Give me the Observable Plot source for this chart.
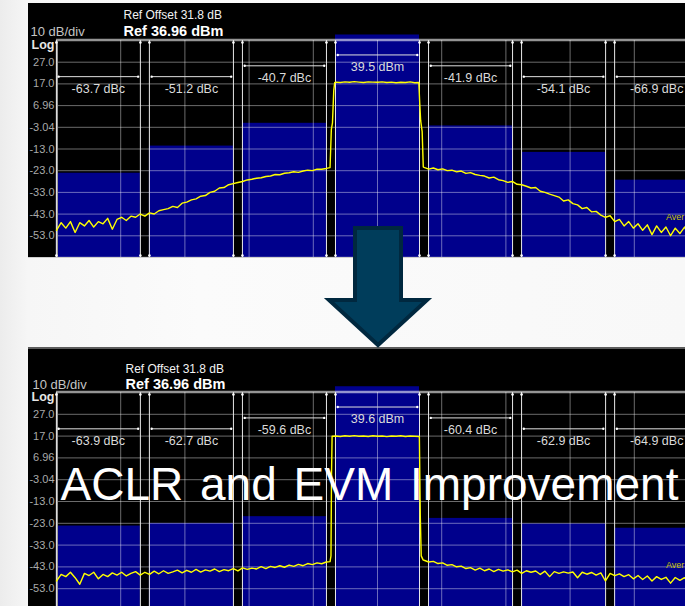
<!DOCTYPE html>
<html>
<head>
<meta charset="utf-8">
<script src="https://cdn.jsdelivr.net/npm/d3@7"></script>
<script src="https://cdn.jsdelivr.net/npm/@observablehq/plot@0.6"></script>
<style>
html,body{margin:0;padding:0;overflow:hidden;background:#f7f7f7;}
#page{position:relative;width:685px;height:606px;overflow:hidden;
  background:linear-gradient(90deg,#ececec 0px,#f6f6f6 28px,#fbfbfb 200px,#f8f8f8 100%);
  font-family:"Liberation Sans",Arial,sans-serif;}
.panel{position:absolute;left:28px;background:#000;}
#top{top:3px;width:670px;height:254px;}
#bottom{top:349px;width:670px;height:261px;}
#sep{position:absolute;left:28px;top:347px;width:657px;height:2px;background:#5c5c5c;}
#topedge{position:absolute;left:28px;top:257px;width:657px;height:1px;background:#cfcfcf;}
#arrow{position:absolute;left:0;top:0;pointer-events:none;}
</style>
</head>
<body>
<div id="page">
  <div id="top" class="panel"></div>
  <div id="topedge"></div>
  <div id="sep"></div>
  <div id="bottom" class="panel"></div>
  <svg id="arrow" width="685" height="606">
    <polygon points="355,228 401,228 401,300 427,300 378,345 329,300 355,300"
      fill="#003d5b" stroke="#00283f" stroke-width="4" stroke-linejoin="miter"/>
  </svg>
</div>
<script>
// ---------- data ----------
const channelOffsets = [-15, -10, -5, 0, 5, 10, 15];       // MHz
const channelBandwidth = 4.515;                             // MHz
const spanMHz = [-17.25, 17.25];
const refLevel = 36.96;
const bottomLevel = -63.04;
const xGridMHz = [-13.8, -10.35, -6.9, -3.45, 0, 3.45, 6.9, 10.35, 13.8];
const yTicks = [26.96, 16.96, 6.96, -3.04, -13.04, -23.04, -33.04, -43.04, -53.04];
const yTickLabels = ["27.0", "17.0", "6.96", "-3.04", "-13.0", "-23.0", "-33.0", "-43.0", "-53.0"];
const labelLevels = [20.3, 20.3, 25.3, 30.3, 25.3, 20.3, 20.3];

const topCarrier = 39.5;
const topRel = [-63.7, -51.2, -40.7, null, -41.9, -54.1, -66.9];
const topLabels = ["-63.7 dBc", "-51.2 dBc", "-40.7 dBc", "39.5 dBm", "-41.9 dBc", "-54.1 dBc", "-66.9 dBc"];

const bottomCarrier = 39.6;
const bottomRel = [-63.9, -62.7, -59.6, null, -60.4, -62.9, -64.9];
const bottomLabels = ["-63.9 dBc", "-62.7 dBc", "-59.6 dBc", "39.6 dBm", "-60.4 dBc", "-62.9 dBc", "-64.9 dBc"];

const headerOffset = "Ref Offset 31.8 dB";
const headerRef = "Ref 36.96 dBm";
const headerScale = "10 dB/div";
const headerLog = "Log";
const detectorText = "Aver";
const title = "ACLR and EVM Improvement";

// spectrum traces [MHz, dBm]
const traceTop = [
[-17.25,-50.5],[-17,-47],[-16.75,-49.5],[-16.5,-46.5],[-16.25,-51.5],[-16,-47],[-15.75,-48.5],[-15.5,-46],
[-15.25,-49],[-15,-46.5],[-14.75,-47.5],[-14.5,-45],[-14.25,-50],[-14,-45.5],[-13.75,-44.5],[-13.5,-46],
[-13.25,-44],[-13,-44.5],[-12.75,-43],[-12.5,-44],[-12.25,-42.5],[-12,-43],[-11.75,-41.5],[-11.5,-41],
[-11.25,-40.5],[-11,-39.5],[-10.75,-40],[-10.5,-38],[-10.25,-37.5],[-10,-36.5],[-9.75,-36],[-9.5,-34.8],
[-9.25,-34.5],[-9,-33],[-8.75,-32.5],[-8.5,-31],[-8.25,-30.8],[-8,-29.5],[-7.75,-29],[-7.5,-28.5],
[-7.25,-28],[-7,-27.3],[-6.75,-27],[-6.5,-26.5],[-6.25,-26.3],[-6,-25.7],[-5.75,-25.5],[-5.5,-24.8],
[-5.25,-24.9],[-5,-24.2],[-4.75,-24],[-4.5,-23.5],[-4.25,-23.8],[-4,-23.2],[-3.75,-22.8],[-3.5,-23],
[-3.25,-22.3],[-3,-22.4],[-2.75,-22],[-2.55,-21.6],[-2.48,-4],[-2.42,-1],[-2.35,14],[-2.3,17.6],
[-2.25,17.8],[-2,17.6],[-1.75,17.9],[-1.5,17.7],[-1.25,18],[-1,17.8],[-0.75,17.6],[-0.5,17.9],
[-0.25,17.8],[0,17.7],[0.25,17.9],[0.5,17.6],[0.75,17.8],[1,17.5],[1.25,17.7],[1.5,17.6],
[1.75,17.9],[2,17.5],[2.22,17.6],[2.27,8],[2.32,0],[2.4,-5],[2.46,-21.3],
[2.5,-21.5],[2.75,-22.3],[3,-21.8],[3.25,-22.6],[3.5,-22.2],[3.75,-23],[4,-22.8],[4.25,-23.6],
[4.5,-23.2],[4.75,-24.3],[5,-23.9],[5.25,-24.8],[5.5,-25.2],[5.75,-25.5],[6,-26.4],[6.25,-26],
[6.5,-27.2],[6.75,-27.6],[7,-28.4],[7.25,-28],[7.5,-29.3],[7.75,-29.5],[8,-30.2],[8.25,-31],
[8.5,-30.8],[8.75,-32.5],[9,-33],[9.25,-33.8],[9.5,-34.5],[9.75,-35.2],[10,-37],[10.25,-36.5],
[10.5,-38.2],[10.75,-38.8],[11,-40.5],[11.25,-40],[11.5,-42],[11.75,-41.8],[12,-43.5],[12.25,-44.5],
[12.5,-43.8],[12.75,-46.5],[13,-45.5],[13.25,-48.5],[13.5,-46.5],[13.75,-49.5],[14,-47.5],[14.25,-50.5],
[14.5,-48],[14.75,-52.5],[15,-48.5],[15.25,-51.5],[15.5,-49],[15.75,-53],[16,-49.5],[16.25,-52],
[16.5,-49],[16.75,-54],[17,-50],[17.25,-52.5]
];
const traceBottom = [
[-17.25,-49.5],[-17,-46.5],[-16.75,-47.5],[-16.5,-45.5],[-16.25,-48],[-16,-51],[-15.75,-46],[-15.5,-47],
[-15.25,-45.5],[-15,-48.5],[-14.75,-46.5],[-14.5,-47.5],[-14.25,-45.8],[-14,-46.8],[-13.75,-45.5],[-13.5,-47.2],
[-13.25,-46],[-13,-45.2],[-12.75,-46.8],[-12.5,-45.5],[-12.25,-46.5],[-12,-45],[-11.75,-46.2],[-11.5,-44.8],
[-11.25,-46],[-11,-45.3],[-10.75,-44.5],[-10.5,-45.8],[-10.25,-44.6],[-10,-45.5],[-9.75,-44.2],[-9.5,-45.4],
[-9.25,-44.4],[-9,-45],[-8.75,-44],[-8.5,-45.2],[-8.25,-44.3],[-8,-44.8],[-7.75,-43.8],[-7.5,-44.9],
[-7.25,-43.5],[-7,-44.2],[-6.75,-43.6],[-6.5,-44],[-6.25,-42.9],[-6,-43.8],[-5.75,-42.8],[-5.5,-43.3],
[-5.25,-42.5],[-5,-43.2],[-4.75,-42.2],[-4.5,-42.8],[-4.25,-41.9],[-4,-42.5],[-3.75,-41.5],[-3.5,-42],
[-3.25,-41.2],[-3,-41.6],[-2.75,-40.8],[-2.55,-40.6],[-2.5,-38],[-2.47,0],[-2.44,16.9],
[-2.25,17],[-2,16.8],[-1.75,17.1],[-1.5,16.9],[-1.25,17.2],[-1,16.9],[-0.75,17],[-0.5,16.8],
[-0.25,17.1],[0,16.9],[0.25,17],[0.5,16.7],[0.75,17],[1,16.9],[1.25,17.1],[1.5,16.8],
[1.75,17],[2,16.9],[2.25,16.8],[2.3,-20],[2.35,-38],[2.45,-39.8],
[2.5,-40],[2.75,-40.8],[3,-40.5],[3.25,-41.5],[3.5,-41.2],[3.75,-42.3],[4,-42],[4.25,-43],
[4.5,-42.7],[4.75,-43.8],[5,-43.4],[5.25,-44.5],[5.5,-43.6],[5.75,-44.8],[6,-44],[6.25,-45.2],
[6.5,-44.2],[6.75,-45],[7,-44.4],[7.25,-45.3],[7.5,-44.5],[7.75,-46],[8,-44.8],[8.25,-45.5],
[8.5,-44.9],[8.75,-46.5],[9,-45],[9.25,-47.5],[9.5,-45.2],[9.75,-46],[10,-45.3],[10.25,-45.9],
[10.5,-45.4],[10.75,-48],[11,-45.5],[11.25,-46.4],[11.5,-45.6],[11.75,-46.8],[12,-45.8],[12.25,-49.5],
[12.5,-46],[12.75,-47],[13,-46.2],[13.25,-47.5],[13.5,-46.6],[13.75,-48.5],[14,-47],[14.25,-48.8],
[14.5,-47.2],[14.75,-49.5],[15,-47.5],[15.25,-48.8],[15.5,-47.8],[15.75,-50.5],[16,-47.9],[16.25,-49.2],
[16.5,-48],[16.75,-50.5],[17,-48.2],[17.25,-49]
];

// ---------- drawing ----------
const FONT = "'Liberation Sans', Arial, sans-serif";

function spectrumPanel({carrier, rel, labels, trace, height, marginTop, hdr, averY, withTitle}) {
  const channels = channelOffsets.map((c, i) => ({
    c,
    x1: c - channelBandwidth / 2,
    x2: c + channelBandwidth / 2,
    power: rel[i] == null ? carrier : carrier + rel[i],
    label: labels[i],
    level: labelLevels[i]
  }));
  const edges = channels.flatMap(d => [d.x1, d.x2]);
  const bracketEnds = channels.flatMap(d => [{x: d.x1 + 0.12, y: d.level}, {x: d.x2 - 0.12, y: d.level}]);
  const marks = [
    Plot.rect(channels, {x1: "x1", x2: "x2", y1: bottomLevel, y2: "power", fill: "#00008c"}),
    Plot.ruleY(yTicks, {stroke: "#ffffff", strokeOpacity: 0.42}),
    Plot.ruleX(xGridMHz, {stroke: "#ffffff", strokeOpacity: 0.42}),
    Plot.ruleY([refLevel], {stroke: "#ffffff", strokeOpacity: 0.58, strokeWidth: 2.5, dy: -0.5}),
    Plot.ruleY([bottomLevel], {stroke: "#ffffff", strokeOpacity: 0.5, strokeWidth: 1.5}),
    Plot.ruleX([spanMHz[0]], {stroke: "#9a9a9a", strokeWidth: 2, dx: 0.5}),
    Plot.ruleX(edges, {y1: bottomLevel, y2: refLevel, stroke: "#e8e8e8", strokeWidth: 1}),
    Plot.dot(edges, {x: d => d, y: refLevel, r: 1.3, fill: "#ffffff", dy: 2}),
    Plot.dot(edges, {x: d => d, y: bottomLevel, r: 1.3, fill: "#ffffff", dy: -2}),
    Plot.ruleY(channels, {x1: d => d.x1 + 0.12, x2: d => d.x2 - 0.12, y: "level", stroke: "#e0e0e0", strokeWidth: 1}),
    Plot.dot(bracketEnds, {x: "x", y: "y", r: 1.2, fill: "#ffffff"}),
    Plot.text(channels, {x: "c", y: "level", text: "label", dy: 12, fill: "#dadada", fontSize: 12.5}),
    Plot.line(trace, {x: d => d[0], y: d => d[1], stroke: "#ffff00", strokeWidth: 1.4}),
    Plot.text(yTicks, {x: spanMHz[0], y: d => d, text: (d, i) => yTickLabels[i], textAnchor: "end", dx: -2, fill: "#a9a9a9", fontSize: 11}),
    Plot.text([headerLog], {x: spanMHz[0], y: refLevel, textAnchor: "end", dx: -2, dy: hdr.logDy, fill: "#e6e6e6", fontSize: 12.5, fontWeight: "bold"}),
    Plot.text([headerScale], {frameAnchor: "top-left", textAnchor: "start", lineAnchor: "bottom", dx: hdr.scaleDx, dy: hdr.refDy, fill: "#c4c4c4", fontSize: 13}),
    Plot.text([headerOffset], {frameAnchor: "top-left", textAnchor: "start", lineAnchor: "bottom", dx: hdr.refDx, dy: hdr.offDy, fill: "#f2f2f2", fontSize: 12}),
    Plot.text([headerRef], {frameAnchor: "top-left", textAnchor: "start", lineAnchor: "bottom", dx: hdr.refDx, dy: hdr.refDy, fill: "#ffffff", fontSize: 14.5, fontWeight: "bold"}),
    Plot.text([detectorText], {x: 15.5, y: averY, textAnchor: "start", fill: "#c8c400", fontSize: 9})
  ];
  if (withTitle) {
    marks.push(Plot.text([title], {frameAnchor: "top-left", textAnchor: "start", lineAnchor: "bottom",
      dx: 4, dy: 107.5, fill: "#ffffff", fontSize: 46}));
  }
  const svg = Plot.plot({
    width: 670,
    height,
    marginLeft: 28,
    marginRight: 0,
    marginTop,
    marginBottom: 0,
    x: {domain: spanMHz, axis: null},
    y: {domain: [bottomLevel, refLevel], axis: null},
    style: {background: "#000000", fontFamily: FONT, overflow: "visible"},
    marks
  });
  if (withTitle) {
    svg.querySelectorAll("text").forEach(t => {
      if (t.textContent === title) t.style.wordSpacing = "4px";
    });
  }
  return svg;
}

document.getElementById("top").appendChild(spectrumPanel({
  carrier: topCarrier, rel: topRel, labels: topLabels, trace: traceTop,
  height: 254, marginTop: 37,
  hdr: {refDx: 67, offDy: -21.5, refDy: -4.5, scaleDx: -26, logDy: 4.5},
  averY: -44.3, withTitle: false
}));
document.getElementById("bottom").appendChild(spectrumPanel({
  carrier: bottomCarrier, rel: bottomRel, labels: bottomLabels, trace: traceBottom,
  height: 261, marginTop: 43,
  hdr: {refDx: 69, offDy: -20, refDy: -4, scaleDx: -24, logDy: 4.8},
  averY: -42.2, withTitle: true
}));
</script>
</body>
</html>
